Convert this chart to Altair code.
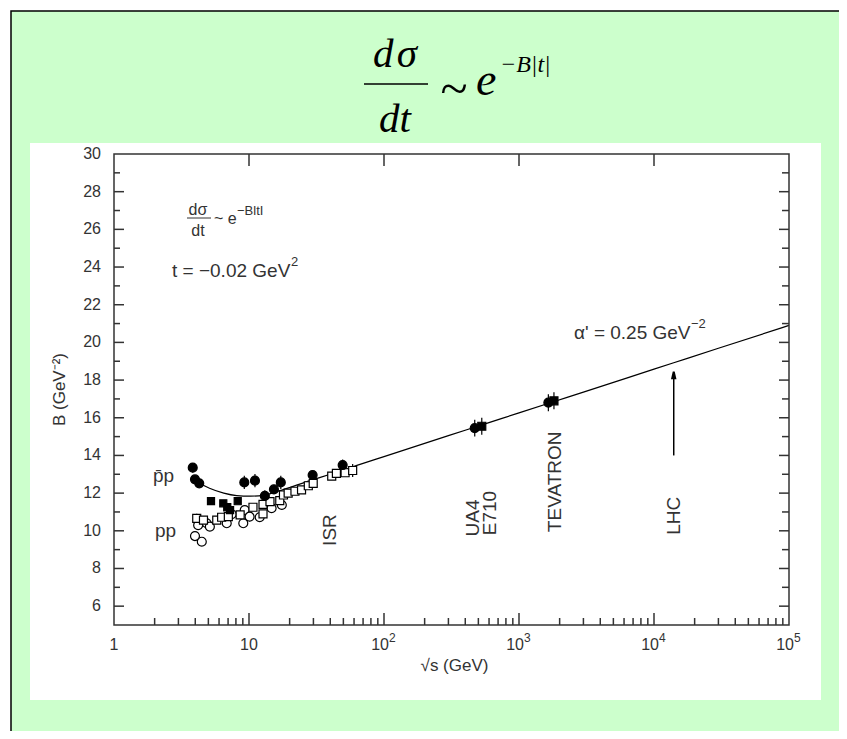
import altair as alt
import pandas as pd

# ---------------- data ----------------
# p-bar p, filled circles
pbp_circle_s = [3.83, 3.98, 4.28, 9.23, 11.07, 13.1, 15.3, 17.2, 29.6, 49.4]
pbp_circle_B = [13.35, 12.73, 12.52, 12.57, 12.66, 11.85, 12.2, 12.57, 12.96, 13.49]
pbp_circle_err = [0.25, 0.15, 0.15, 0.35, 0.35, 0.3, 0.25, 0.35, 0.15, 0.3]
# p-bar p, filled squares
pbp_square_s = [5.23, 6.45, 6.9, 7.24, 8.25]
pbp_square_B = [11.58, 11.46, 11.25, 11.1, 11.57]
pbp_square_err = [0.1, 0.1, 0.2, 0.25, 0.1]
# pp, open circles
pp_circle_s = [3.98, 4.47, 4.2, 4.86, 5.13, 6.84, 7.45, 9.07, 9.3, 10.1, 12.0, 14.7, 17.5]
pp_circle_B = [9.72, 9.42, 10.3, 10.4, 10.22, 10.4, 10.88, 10.4, 11.1, 10.75, 10.72, 11.2, 11.37]
pp_circle_err = [0.2, 0.2, 0.25, 0.25, 0.2, 0.25, 0.2, 0.25, 0.2, 0.25, 0.25, 0.25, 0.25]
# pp, open squares
pp_square_s = [4.1, 4.6, 5.77, 6.27, 7.03, 8.6, 10.7, 12.7, 12.7, 14.3, 16.9, 18.0, 19.5,
               21.9, 24.5, 27.5, 29.9, 41.0, 44.4, 51.5, 58.6]
pp_square_B = [10.66, 10.57, 10.57, 10.72, 10.75, 10.84, 11.25, 11.4, 10.9, 11.55, 11.6, 11.9, 12.0,
               12.1, 12.17, 12.39, 12.52, 12.9, 13.05, 13.08, 13.2]
pp_square_err = [0.25, 0.2, 0.15, 0.15, 0.15, 0.15, 0.15, 0.15, 0.2, 0.15, 0.25, 0.1, 0.1,
                 0.1, 0.1, 0.1, 0.1, 0.1, 0.15, 0.1, 0.35]
# collider points (UA4 / E710 / TEVATRON)
coll_circle_s = [470, 1650]
coll_circle_B = [15.45, 16.80]
coll_square_s = [530, 1815]
coll_square_B = [15.55, 16.90]
coll_err = [0.45, 0.45]

# fitted curve
fit_s = [3.9, 4.1, 5.1, 6.5, 8.1, 10.2, 12.8, 16.0, 20.0, 28.0, 40.0, 63.0, 100.0, 300.0,
         546.0, 1000.0, 1800.0, 3000.0, 10000.0, 14000.0, 30000.0, 100000.0]
fit_B = [12.7, 12.6, 12.26, 12.0, 11.87, 11.84, 11.88, 12.08, 12.3, 12.65, 13.0, 13.47, 13.94,
         15.05, 15.65, 16.26, 16.85, 17.36, 18.58, 18.92, 19.69, 20.9]

# LHC arrow
lhc_s = [14000]
lhc_B_from = [14.0]
lhc_B_to = [18.2]

# axis ticks and tick labels
x_major = [1, 10, 100, 1000, 10000, 100000]
x_minor = [m * 10 ** d for d in range(5) for m in range(2, 10)]
x_base_labels = ["1", "10", "10", "10", "10", "10"]
x_exp_labels = ["", "", "2", "3", "4", "5"]
y_major = [6, 8, 10, 12, 14, 16, 18, 20, 22, 24, 26, 28, 30]
y_minor = [7, 9, 11, 13, 15, 17, 19, 21, 23, 25, 27, 29]
x_title = "\u221as (GeV)"
y_title = "B (GeV\u207b\u00b2)"

# rotated labels
rot_text = ["ISR", "UA4", "E710", "TEVATRON", "LHC"]
rot_s = [39.8, 454, 610, 1849, 14000]
rot_B = [10.04, 10.68, 10.94, 12.6, 10.8]

# horizontal labels and their superscripts
lab_text = ["p\u0304p", "pp", "t = \u22120.02 GeV", "\u03b1' = 0.25 GeV"]
lab_s = [1.945, 2.01, 2.69, 2555]
lab_B = [12.9, 10.0, 23.8, 20.5]
sup_text = ["2", "\u22122"]
sup_s = [20.5, 18800]
sup_B = [24.25, 20.98]

# ---------------- layout ----------------
W, H = 675, 471
FONT = "Liberation Sans"
INK = "#333333"
xs = alt.Scale(type="log", domain=[1, 100000], nice=False)
ys = alt.Scale(domain=[5, 30], nice=False, zero=False)
one = pd.DataFrame({"a": [0]})


def X(f="s"):
    return alt.X(f"{f}:Q", scale=xs, axis=None)


def Y(f="B"):
    return alt.Y(f"{f}:Q", scale=ys, axis=None)


green = alt.Chart(one).mark_rect(fill="#ccffcc", stroke="black", strokeWidth=1.5).encode(
    x=alt.value(-103), x2=alt.value(820), y=alt.value(-143), y2=alt.value(700))
white = alt.Chart(one).mark_rect(fill="white").encode(
    x=alt.value(-84), x2=alt.value(707), y=alt.value(-11), y2=alt.value(546))
frame = alt.Chart(one).mark_rect(fillOpacity=0, stroke=INK, strokeWidth=1.5).encode(
    x=alt.value(0), x2=alt.value(W), y=alt.value(0), y2=alt.value(H))

serif = "Liberation Serif"
t1 = alt.Chart(one).mark_text(text="d\u200a\u03c3", font=serif, fontStyle="italic", fontSize=41,
                              align="center", baseline="alphabetic", color="black").encode(
    x=alt.value(281), y=alt.value(-87))
t2 = alt.Chart(one).mark_rule(color="black", strokeWidth=1.5).encode(
    x=alt.value(250), x2=alt.value(314), y=alt.value(-70))
t3 = alt.Chart(one).mark_text(text="dt", font=serif, fontStyle="italic", fontSize=41,
                              align="center", baseline="alphabetic", color="black").encode(
    x=alt.value(281), y=alt.value(-22))
t4 = alt.Chart(one).mark_text(text="~", font=serif, fontSize=50,
                              align="center", baseline="middle", color="black").encode(
    x=alt.value(340), y=alt.value(-64))
t5 = alt.Chart(one).mark_text(text="e", font=serif, fontStyle="italic", fontSize=46,
                              align="left", baseline="alphabetic", color="black").encode(
    x=alt.value(362), y=alt.value(-59))
t6 = alt.Chart(one).mark_text(text="\u2212B|t|", font=serif, fontStyle="italic", fontSize=24,
                              align="left", baseline="alphabetic", color="black").encode(
    x=alt.value(386), y=alt.value(-82))
title_layers = [t1, t2, t3, t4, t5, t6]

# small formula inside the plot
f1 = alt.Chart(one).mark_text(text="d\u03c3", font=FONT, fontSize=16, align="center",
                              baseline="alphabetic", color=INK).encode(
    x=alt.value(84), y=alt.value(61))
f2 = alt.Chart(one).mark_rule(color=INK, strokeWidth=1).encode(
    x=alt.value(73), x2=alt.value(97), y=alt.value(64))
f3 = alt.Chart(one).mark_text(text="dt", font=FONT, fontSize=16, align="center",
                              baseline="alphabetic", color=INK).encode(
    x=alt.value(84), y=alt.value(82))
f4 = alt.Chart(one).mark_text(text="~ e", font=FONT, fontSize=16, align="left",
                              baseline="alphabetic", color=INK).encode(
    x=alt.value(100), y=alt.value(70))
f5 = alt.Chart(one).mark_text(text="\u2212BltI", font=FONT, fontSize=13, align="left",
                              baseline="alphabetic", color=INK).encode(
    x=alt.value(123), y=alt.value(61))
formula_layers = [f1, f2, f3, f4, f5]


# ticks (pointing inward)
def tick_layer(vals, field, side, length):
    df = pd.DataFrame({field: vals})
    c = alt.Chart(df).mark_rule(color=INK, strokeWidth=1.5)
    if side == "bottom":
        return c.encode(x=X(field), y=alt.value(H), y2=alt.value(H - length))
    if side == "top":
        return c.encode(x=X(field), y=alt.value(0), y2=alt.value(length))
    if side == "left":
        return c.encode(y=Y(field), x=alt.value(0), x2=alt.value(length))
    return c.encode(y=Y(field), x=alt.value(W), x2=alt.value(W - length))


ticks = [
    tick_layer(x_major[1:-1], "s", "bottom", 12),
    tick_layer(x_minor, "s", "bottom", 7),
    tick_layer(x_major[1:-1], "s", "top", 12),
    tick_layer(y_major[:-1], "B", "left", 10),
    tick_layer(y_minor, "B", "left", 6),
    tick_layer(y_major[:-1], "B", "right", 10),
    tick_layer(y_minor, "B", "right", 7),
]

# tick labels, drawn through the scales
xl_df = pd.DataFrame({"s": x_major, "base": x_base_labels, "exp": x_exp_labels})
xl_one = alt.Chart(xl_df.iloc[:2]).mark_text(align="center", baseline="middle", font=FONT,
                                              fontSize=16, color=INK).encode(
    x=X(), y=alt.value(H + 20), text="base:N")
xl_base = alt.Chart(xl_df.iloc[2:]).mark_text(align="right", baseline="middle", font=FONT,
                                               fontSize=16, color=INK, dx=5).encode(
    x=X(), y=alt.value(H + 20), text="base:N")
xl_exp = alt.Chart(xl_df.iloc[2:]).mark_text(align="left", baseline="middle", font=FONT,
                                              fontSize=12, color=INK, dx=5).encode(
    x=X(), y=alt.value(H + 13), text="exp:N")
yl_df = pd.DataFrame({"B": y_major, "t": [str(v) for v in y_major]})
yl = alt.Chart(yl_df).mark_text(align="right", baseline="middle", font=FONT, fontSize=16,
                                color=INK).encode(x=alt.value(-13), y=Y(), text="t:N")
xt = alt.Chart(one).mark_text(text=x_title, align="center", baseline="middle", font=FONT,
                              fontSize=17, color=INK).encode(x=alt.value(W / 2 + 3), y=alt.value(H + 41))
yt = alt.Chart(one).mark_text(text=y_title, align="center", baseline="middle", font=FONT,
                              fontSize=17, color=INK, angle=270).encode(
    x=alt.value(-54), y=alt.value(H / 2))
labels = [xl_one, xl_base, xl_exp, yl, xt, yt]

# fit line
fit_df = pd.DataFrame({"s": fit_s, "B": fit_B})
fit = alt.Chart(fit_df).mark_line(color="black", strokeWidth=1.2, interpolate="monotone").encode(
    x=X(), y=Y(), order="s:Q")


def err_layer(s, b, e):
    df = pd.DataFrame({"s": s, "lo": [v - d for v, d in zip(b, e)], "hi": [v + d for v, d in zip(b, e)]})
    return alt.Chart(df).mark_rule(color="black", strokeWidth=1.2).encode(x=X(), y=Y("lo"), y2="hi:Q")


errs = [
    err_layer(pbp_circle_s, pbp_circle_B, pbp_circle_err),
    err_layer(pbp_square_s, pbp_square_B, pbp_square_err),
    err_layer(pp_circle_s, pp_circle_B, pp_circle_err),
    err_layer(pp_square_s, pp_square_B, pp_square_err),
    err_layer(coll_circle_s, coll_circle_B, coll_err),
    err_layer(coll_square_s, coll_square_B, coll_err),
]


def pts(s, b, shape, filled, size):
    df = pd.DataFrame({"s": s, "B": b})
    return alt.Chart(df).mark_point(shape=shape, filled=True, size=size,
                                    fill="black" if filled else "white", stroke="black",
                                    strokeWidth=1.2, opacity=1).encode(x=X(), y=Y())


points = [
    pts(pp_circle_s, pp_circle_B, "circle", False, 80),
    pts(pp_square_s, pp_square_B, "square", False, 64),
    pts(pbp_square_s, pbp_square_B, "square", True, 50),
    pts(pbp_circle_s, pbp_circle_B, "circle", True, 80),
    pts(coll_circle_s, coll_circle_B, "circle", True, 80),
    pts(coll_square_s, coll_square_B, "square", True, 64),
]

lhc_df = pd.DataFrame({"s": lhc_s, "B": lhc_B_from, "B2": lhc_B_to})
lhc_line = alt.Chart(lhc_df).mark_rule(color="black", strokeWidth=1.5).encode(
    x=X(), y=Y(), y2="B2:Q")
lhc_head = alt.Chart(lhc_df).mark_point(shape="M0,-1.4L0.45,0.6L-0.45,0.6Z", filled=True,
                                        fill="black", stroke="black", size=45, opacity=1).encode(
    x=X(), y=Y("B2"))

rot_df = pd.DataFrame({"s": rot_s, "B": rot_B, "t": rot_text})
rot = alt.Chart(rot_df).mark_text(angle=270, align="center", baseline="middle", font=FONT,
                                  fontSize=19, color=INK).encode(x=X(), y=Y(), text="t:N")

lab_df = pd.DataFrame({"s": lab_s, "B": lab_B, "t": lab_text})
labs = alt.Chart(lab_df).mark_text(align="left", baseline="middle", font=FONT, fontSize=19,
                                   color=INK).encode(x=X(), y=Y(), text="t:N")
sup_df = pd.DataFrame({"s": sup_s, "B": sup_B, "t": sup_text})
sups = alt.Chart(sup_df).mark_text(align="left", baseline="middle", font=FONT, fontSize=13,
                                   color=INK).encode(x=X(), y=Y(), text="t:N")

chart = alt.layer(
    green, white, *title_layers, fit, *ticks, *errs, *points, lhc_line, lhc_head, rot, labs, sups,
    *formula_layers, *labels, frame,
).properties(
    width=W, height=H, background="white",
    padding={"left": 106, "top": 146, "right": 50, "bottom": 106},
    autosize=alt.AutoSizeParams(type="none"),
).configure_view(stroke=None)

chart.save("out.html", embed_options={"renderer": "svg", "actions": False})
